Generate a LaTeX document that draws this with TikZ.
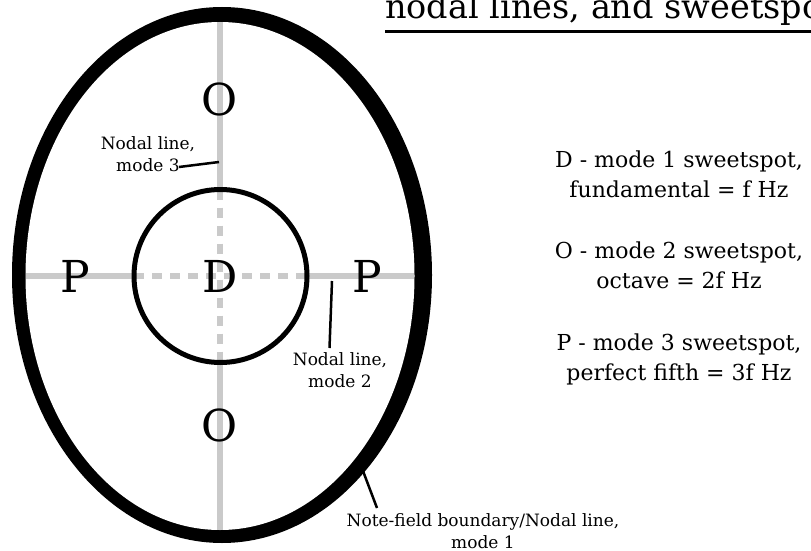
\documentclass[tikz,border=0pt]{standalone}
\usepackage{fontspec}
\setmainfont{DejaVu Serif}
\definecolor{nodalgray}{RGB}{150,150,150}
\tikzset{
  big/.style={inner sep=0pt, font=\fontsize{44}{50}\selectfont},
  lbl/.style={inner sep=0pt, align=center, font=\fontsize{17}{21.5}\selectfont},
  legend/.style={inner sep=0pt, align=center, font=\fontsize{22}{30}\selectfont},
  nodal/.style={draw=nodalgray, draw opacity=0.5, line width=6pt},
  nodaldash/.style={nodal, dash pattern=on 10pt off 8pt},
  leader/.style={draw=black, line width=2.5pt},
}
\begin{document}
\begin{tikzpicture}[x=1pt,y=-1pt]
\useasboundingbox (0,0) rectangle (811,551);
\clip (0,0) rectangle (811,551);
% title
\node[inner sep=0pt, anchor=base west, font=\fontsize{33.5}{38}\selectfont] (title) at (385,19) {nodal lines, and sweetspots};
\coordinate (ulA) at (385,32);
\coordinate (ulB) at (815,32);
\draw[line width=3pt] (ulA) -- (ulB);
% outer boundary
\fill[black] (222,275) ellipse [x radius=210pt, y radius=268pt];
\fill[white] (220,276) ellipse [x radius=194.5pt, y radius=254pt];
% nodal lines
\coordinate (vt) at (220,22);
\coordinate (vb) at (220,530);
\coordinate (hl) at (26,276);
\coordinate (hr) at (414,276);
\coordinate (ct) at (220,189.5);
\coordinate (cb) at (220,362.5);
\coordinate (cl) at (134,276);
\coordinate (cr) at (307,276);
\draw[nodal] (vt) -- (ct);
\draw[nodal] (cb) -- (vb);
\draw[nodal] (hl) -- (cl);
\draw[nodal] (cr) -- (hr);
\draw[nodaldash] (ct) -- (cb);
\draw[nodaldash] (cl) -- (cr);
% inner circle
\draw[line width=5pt] (220.5,276) circle [radius=86.5pt];
% sweetspot letters
\node[big] (Otop) at (220,99) {O};
\node[big] (Obot) at (220,425) {O};
\node[big] (Pl) at (75.5,276) {P};
\node[big] (Pr) at (367,276) {P};
\node[big] (D) at (220,276) {D};
% labels
\node[lbl, anchor=base] (n3) at (148,171) {Nodal line,\\mode 3};
\coordinate (n3a) at (179,167);
\coordinate (n3b) at (219,162);
\draw[leader] (n3a) -- (n3b);
\node[lbl, anchor=base] (n2) at (340,387) {Nodal line,\\mode 2};
\coordinate (n2a) at (332,281);
\coordinate (n2b) at (329.5,348);
\draw[leader] (n2a) -- (n2b);
\node[lbl, anchor=base] (n1) at (483,548) {Note-field boundary/Nodal line,\\mode 1};
\coordinate (n1a) at (363,471);
\coordinate (n1b) at (377,508);
\draw[leader] (n1a) -- (n1b);
% legend
\node[legend, anchor=base] (legD) at (679,197) {D - mode 1 sweetspot,\\fundamental = f Hz};
\node[legend, anchor=base] (legO) at (679,288) {O - mode 2 sweetspot,\\octave = 2f Hz};
\node[legend, anchor=base] (legP) at (679,380) {P - mode 3 sweetspot,\\perfect fifth = 3f Hz};
\end{tikzpicture}
\end{document}
